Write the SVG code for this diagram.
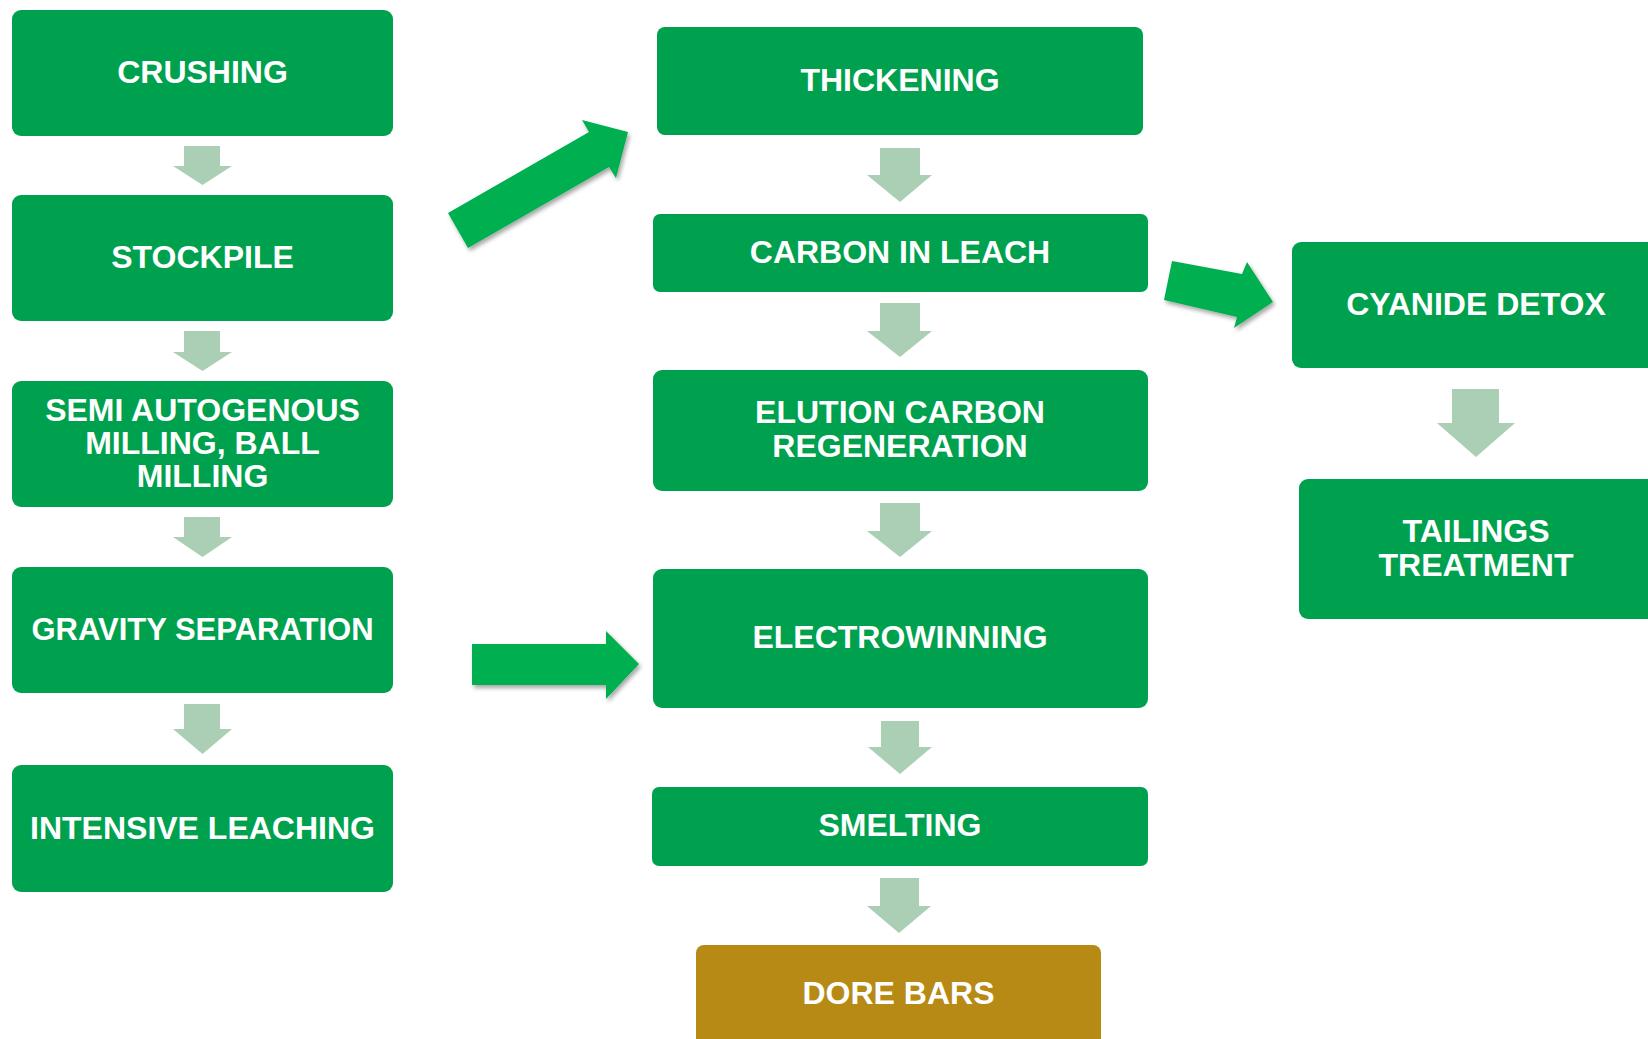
<svg xmlns="http://www.w3.org/2000/svg" width="1648" height="1039" viewBox="0 0 1648 1039">
<style>
.box{fill:#00A14E}
.gold{fill:#B68A14}
.t{font-family:"Liberation Sans",Arial,sans-serif;font-weight:bold;font-size:32px;fill:#FFFFFF;text-anchor:middle}
.la{fill:#AACFB4}
.ga{fill:#00AF4F;filter:url(#sh)}
</style>
<defs>
<filter id="sh" x="-20%" y="-20%" width="140%" height="140%">
<feDropShadow dx="2" dy="3" stdDeviation="2" flood-color="#000" flood-opacity="0.35"/>
</filter>
</defs>
<rect width="1648" height="1039" fill="#FFFFFF"/>
<g id="crushing"><rect class="box" x="12" y="10" width="381" height="126" rx="9"/><text class="t" x="202.5" y="83">CRUSHING</text></g>
<g id="stockpile"><rect class="box" x="12" y="195" width="381" height="126" rx="9"/><text class="t" x="202.5" y="268">STOCKPILE</text></g>
<g id="milling"><rect class="box" x="12" y="381" width="381" height="126" rx="9"/><text class="t" x="202.5" y="421">SEMI AUTOGENOUS</text><text class="t" x="202.5" y="454">MILLING, BALL</text><text class="t" x="202.5" y="487">MILLING</text></g>
<g id="gravity"><rect class="box" x="12" y="567" width="381" height="126" rx="9"/><text class="t" x="202.5" y="640" style="font-size:31px">GRAVITY SEPARATION</text></g>
<g id="intensive"><rect class="box" x="12" y="765" width="381" height="127" rx="9"/><text class="t" x="202.5" y="839">INTENSIVE LEACHING</text></g>
<g id="thickening"><rect class="box" x="657" y="27" width="486" height="108" rx="8"/><text class="t" x="900" y="91">THICKENING</text></g>
<g id="cil"><rect class="box" x="653" y="214" width="495" height="78" rx="7"/><text class="t" x="900" y="263">CARBON IN LEACH</text></g>
<g id="elution"><rect class="box" x="653" y="370" width="495" height="121" rx="9"/><text class="t" x="900" y="423">ELUTION CARBON</text><text class="t" x="900" y="456.5">REGENERATION</text></g>
<g id="electrowinning"><rect class="box" x="653" y="569" width="495" height="139" rx="9"/><text class="t" x="900" y="648">ELECTROWINNING</text></g>
<g id="smelting"><rect class="box" x="652" y="787" width="496" height="79" rx="7"/><text class="t" x="900" y="836">SMELTING</text></g>
<g id="dore"><rect class="gold" x="696" y="945" width="405" height="110" rx="8"/><text class="t" x="898.5" y="1004">DORE BARS</text></g>
<g id="cyanide"><rect class="box" x="1292" y="242" width="380" height="126" rx="9"/><text class="t" x="1476" y="315">CYANIDE DETOX</text></g>
<g id="tailings"><rect class="box" x="1299" y="479" width="380" height="140" rx="9"/><text class="t" x="1476" y="542">TAILINGS</text><text class="t" x="1476" y="576">TREATMENT</text></g>
<g id="connectors">
<polygon class="la" points="184,146 220,146 220,166 232,166 202.5,185 173,166 184,166"/>
<polygon class="la" points="184,331 220,331 220,352 232,352 202.5,371 173,352 184,352"/>
<polygon class="la" points="184,517 220,517 220,537 232,537 202.5,557 173,537 184,537"/>
<polygon class="la" points="184,704 220,704 220,729 232,729 202.5,754 173,729 184,729"/>
<polygon class="la" points="880,148 920,148 920,175 932,175 900,202 867,175 880,175"/>
<polygon class="la" points="880,303 920,303 920,331 932,331 900,357 867,331 880,331"/>
<polygon class="la" points="880,503 920,503 920,531 932,531 900,557 867,531 880,531"/>
<polygon class="la" points="881,721 919,721 919,747 932,747 900,774 868,747 881,747"/>
<polygon class="la" points="880,878 919,878 919,906 931,906 899,933 867,906 880,906"/>
<polygon class="la" points="1452,389 1499,389 1499,423 1515,423 1476,457 1437,423 1452,423"/>
<polygon class="ga" points="448,213 589,132 582,120 628,132 616,178 609,167 468,248"/>
<polygon class="ga" points="472,644 606,644 606,631 639,664 606,699 606,685 472,685"/>
<polygon class="ga" points="1172,261 1242,274 1247,262 1273,302 1234,328 1237,317 1164,300"/>
</g>
</svg>
